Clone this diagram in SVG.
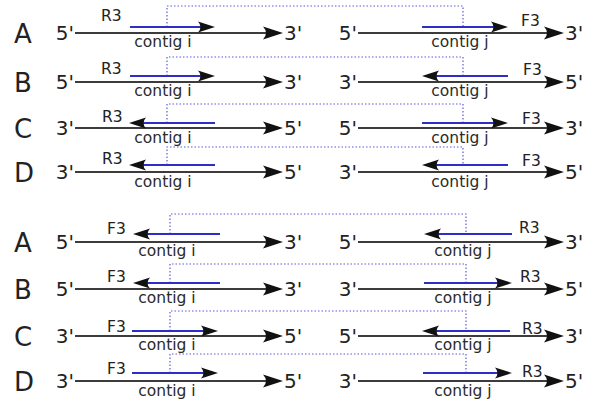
<svg xmlns="http://www.w3.org/2000/svg" width="600" height="403" viewBox="0 0 600 403">
  <style>
    text { font-family: "DejaVu Sans", "Liberation Sans", sans-serif; fill: #222; }
    .row { font-size: 26px; }
    .end { font-size: 20px; }
    .primer { font-size: 15.5px; }
    .contig { font-size: 15.5px; text-anchor: middle; fill: #2a2a2a; }
    .strand { stroke: #3c3c3c; stroke-width: 2.2; fill: none; marker-end: url(#bigHead); }
    .read { stroke: #2e2ec4; stroke-width: 2; fill: none; marker-end: url(#smallHead); }
    .link { stroke: #5a5ae0; stroke-width: 1.2; stroke-dasharray: 1.5 2; fill: none; }
  </style>
  <defs>
    <!-- swept dart heads; the line end sits a few px behind the tip -->
    <marker id="bigHead" markerUnits="userSpaceOnUse" viewBox="-21 -7 22 14" markerWidth="22" markerHeight="14" refX="-10" refY="0" orient="auto">
      <path d="M0,0 L-20,-6.5 Q-14,0 -20,6.5 Z" fill="#111"/>
    </marker>
    <marker id="smallHead" markerUnits="userSpaceOnUse" viewBox="-18 -6 19 12" markerWidth="19" markerHeight="12" refX="-8" refY="0" orient="auto">
      <path d="M0,0 L-17,-5.5 Q-12,0 -17,5.5 Z" fill="#111"/>
    </marker>
  </defs>

  <!-- dotted links between the two reads of each pair -->
  <g id="links">
    <path class="link" d="M167,27 V6 H463 V27"/>
    <path class="link" d="M167,76 V57 H463 V76"/>
    <path class="link" d="M167,123 V104 H463 V123"/>
    <path class="link" d="M167,165 V147 H463 V165"/>
    <path class="link" d="M170,234 V214 H466 V234"/>
    <path class="link" d="M170,283 V264 H466 V283"/>
    <path class="link" d="M170,331 V311 H466 V331"/>
    <path class="link" d="M170,373 V354 H466 V373"/>
  </g>

  <!-- upper block: R3 on contig i, F3 on contig j -->
  <g id="upper-A">
    <text class="row" x="14" y="43">A</text>
    <g id="upper-A-i">
      <text class="end" x="74" y="40" text-anchor="end">5'</text>
      <line class="strand" x1="75" y1="33" x2="273" y2="33"/>
      <text class="end" x="284" y="40">3'</text>
      <line class="read" x1="130" y1="27" x2="207" y2="27"/>
      <text class="primer" x="101" y="21">R3</text>
      <text class="contig" x="163" y="47">contig i</text>
    </g>
    <g id="upper-A-j">
      <text class="end" x="357" y="40" text-anchor="end">5'</text>
      <line class="strand" x1="358" y1="33" x2="554" y2="33"/>
      <text class="end" x="565" y="40">3'</text>
      <line class="read" x1="422" y1="27" x2="500" y2="27"/>
      <text class="primer" x="521" y="26">F3</text>
      <text class="contig" x="460" y="47">contig j</text>
    </g>
  </g>

  <g id="upper-B">
    <text class="row" x="14" y="92">B</text>
    <g id="upper-B-i">
      <text class="end" x="74" y="89" text-anchor="end">5'</text>
      <line class="strand" x1="75" y1="82" x2="273" y2="82"/>
      <text class="end" x="284" y="89">3'</text>
      <line class="read" x1="130" y1="76" x2="207" y2="76"/>
      <text class="primer" x="101" y="74">R3</text>
      <text class="contig" x="163" y="96">contig i</text>
    </g>
    <g id="upper-B-j">
      <text class="end" x="357" y="89" text-anchor="end">3'</text>
      <line class="strand" x1="358" y1="82" x2="554" y2="82"/>
      <text class="end" x="565" y="89">5'</text>
      <line class="read" x1="508" y1="76" x2="430" y2="76"/>
      <text class="primer" x="523" y="75">F3</text>
      <text class="contig" x="460" y="96">contig j</text>
    </g>
  </g>

  <g id="upper-C">
    <text class="row" x="14" y="138">C</text>
    <g id="upper-C-i">
      <text class="end" x="74" y="135" text-anchor="end">3'</text>
      <line class="strand" x1="75" y1="128" x2="273" y2="128"/>
      <text class="end" x="284" y="135">5'</text>
      <line class="read" x1="215" y1="123" x2="137" y2="123"/>
      <text class="primer" x="102" y="122">R3</text>
      <text class="contig" x="163" y="143">contig i</text>
    </g>
    <g id="upper-C-j">
      <text class="end" x="357" y="135" text-anchor="end">5'</text>
      <line class="strand" x1="358" y1="128" x2="554" y2="128"/>
      <text class="end" x="565" y="135">3'</text>
      <line class="read" x1="422" y1="123" x2="500" y2="123"/>
      <text class="primer" x="522" y="124">F3</text>
      <text class="contig" x="460" y="143">contig j</text>
    </g>
  </g>

  <g id="upper-D">
    <text class="row" x="14" y="182">D</text>
    <g id="upper-D-i">
      <text class="end" x="74" y="179" text-anchor="end">3'</text>
      <line class="strand" x1="75" y1="172" x2="273" y2="172"/>
      <text class="end" x="284" y="179">5'</text>
      <line class="read" x1="215" y1="165" x2="137" y2="165"/>
      <text class="primer" x="102" y="164">R3</text>
      <text class="contig" x="163" y="187">contig i</text>
    </g>
    <g id="upper-D-j">
      <text class="end" x="357" y="179" text-anchor="end">3'</text>
      <line class="strand" x1="358" y1="172" x2="554" y2="172"/>
      <text class="end" x="565" y="179">5'</text>
      <line class="read" x1="508" y1="165" x2="430" y2="165"/>
      <text class="primer" x="522" y="166">F3</text>
      <text class="contig" x="460" y="187">contig j</text>
    </g>
  </g>

  <!-- lower block: F3 on contig i, R3 on contig j -->
  <g id="lower-A">
    <text class="row" x="14" y="252">A</text>
    <g id="lower-A-i">
      <text class="end" x="74" y="249" text-anchor="end">5'</text>
      <line class="strand" x1="75" y1="242" x2="273" y2="242"/>
      <text class="end" x="284" y="249">3'</text>
      <line class="read" x1="220" y1="234" x2="141" y2="234"/>
      <text class="primer" x="107" y="234">F3</text>
      <text class="contig" x="167" y="256">contig i</text>
    </g>
    <g id="lower-A-j">
      <text class="end" x="357" y="249" text-anchor="end">5'</text>
      <line class="strand" x1="358" y1="242" x2="554" y2="242"/>
      <text class="end" x="565" y="249">3'</text>
      <line class="read" x1="512" y1="234" x2="432" y2="234"/>
      <text class="primer" x="519" y="233">R3</text>
      <text class="contig" x="463" y="256">contig j</text>
    </g>
  </g>

  <g id="lower-B">
    <text class="row" x="14" y="299">B</text>
    <g id="lower-B-i">
      <text class="end" x="74" y="296" text-anchor="end">5'</text>
      <line class="strand" x1="75" y1="289" x2="273" y2="289"/>
      <text class="end" x="284" y="296">3'</text>
      <line class="read" x1="220" y1="283" x2="141" y2="283"/>
      <text class="primer" x="107" y="282">F3</text>
      <text class="contig" x="167" y="303">contig i</text>
    </g>
    <g id="lower-B-j">
      <text class="end" x="357" y="296" text-anchor="end">3'</text>
      <line class="strand" x1="358" y1="289" x2="554" y2="289"/>
      <text class="end" x="565" y="296">5'</text>
      <line class="read" x1="424" y1="283" x2="504" y2="283"/>
      <text class="primer" x="520" y="282">R3</text>
      <text class="contig" x="463" y="303">contig j</text>
    </g>
  </g>

  <g id="lower-C">
    <text class="row" x="14" y="346">C</text>
    <g id="lower-C-i">
      <text class="end" x="74" y="343" text-anchor="end">3'</text>
      <line class="strand" x1="75" y1="336" x2="273" y2="336"/>
      <text class="end" x="284" y="343">5'</text>
      <line class="read" x1="132" y1="331" x2="210" y2="331"/>
      <text class="primer" x="107" y="332">F3</text>
      <text class="contig" x="167" y="350">contig i</text>
    </g>
    <g id="lower-C-j">
      <text class="end" x="357" y="343" text-anchor="end">5'</text>
      <line class="strand" x1="358" y1="336" x2="554" y2="336"/>
      <text class="end" x="565" y="343">3'</text>
      <line class="read" x1="510" y1="331" x2="430" y2="331"/>
      <text class="primer" x="522" y="334">R3</text>
      <text class="contig" x="463" y="350">contig j</text>
    </g>
  </g>

  <g id="lower-D">
    <text class="row" x="14" y="391">D</text>
    <g id="lower-D-i">
      <text class="end" x="74" y="388" text-anchor="end">3'</text>
      <line class="strand" x1="75" y1="381" x2="273" y2="381"/>
      <text class="end" x="284" y="388">5'</text>
      <line class="read" x1="132" y1="373" x2="210" y2="373"/>
      <text class="primer" x="107" y="374">F3</text>
      <text class="contig" x="167" y="396">contig i</text>
    </g>
    <g id="lower-D-j">
      <text class="end" x="357" y="388" text-anchor="end">3'</text>
      <line class="strand" x1="358" y1="381" x2="554" y2="381"/>
      <text class="end" x="565" y="388">5'</text>
      <line class="read" x1="423" y1="373" x2="504" y2="373"/>
      <text class="primer" x="522" y="377">R3</text>
      <text class="contig" x="463" y="396">contig j</text>
    </g>
  </g>
</svg>
